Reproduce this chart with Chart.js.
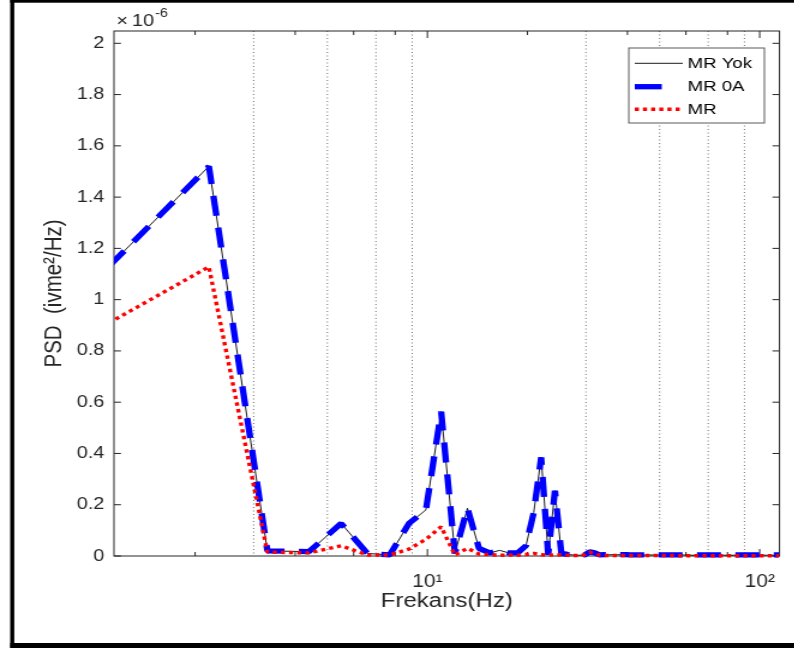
<!DOCTYPE html>
<html lang="tr">
<head>
<meta charset="UTF-8">
<title>PSD - Frekans</title>
<script src="https://cdn.jsdelivr.net/npm/chart.js@4"></script>
<style>
  html, body { margin: 0; padding: 0; background: #fff; overflow: hidden; }
  /* the figure is exported a little wider than tall, so stretch it sideways */
  #psd { display: block; transform: scaleX(1.2); transform-origin: 0 0; }
</style>
</head>
<body>
<canvas id="psd" width="662" height="650"></canvas>
<script>
// frequency bins (Hz)
const freq = [1.1, 2.2, 3.3, 4.4, 5.5, 6.6, 7.7, 8.8, 9.9, 11, 12.1, 13.2, 14.3, 15.4, 16.5, 17.6, 18.7, 19.8, 20.9, 22,
  23.1, 24.2, 25.3, 26.4, 27.5, 28.6, 29.7, 30.8, 31.9, 33, 34.1, 35.2, 36.3, 37.4, 38.5, 39.6, 40.7, 41.8, 42.9, 44,
  45.1, 46.2, 47.3, 48.4, 49.5, 50.6, 51.7, 52.8, 53.9, 55, 56.1, 57.2, 58.3, 59.4, 60.5, 61.6, 62.7, 63.8, 64.9, 66,
  67.1, 68.2, 69.3, 70.4, 71.5, 72.6, 73.7, 74.8, 75.9, 77, 78.1, 79.2, 80.3, 81.4, 82.5, 83.6, 84.7, 85.8, 86.9, 88,
  89.1, 90.2, 91.3, 92.4, 93.5, 94.6, 95.7, 96.8, 97.9, 99, 100.1, 101.2, 102.3, 103.4, 104.5, 105.6, 106.7, 107.8, 108.9, 110,
  111.1, 112.2, 113.3, 114.4];

// PSD values, x 1e-6 (ivme^2/Hz)
const psdYok = [1.13, 1.52, 0.02, 0.017, 0.127, 0.01, 0.004, 0.127, 0.18, 0.563, 0.01, 0.186, 0.03, 0.012, 0.022, 0.012, 0.012, 0.04, 0.17, 0.385,
  0.005, 0.255, 0.01, 0.006, 0.004, 0.003, 0.004, 0.016, 0.012, 0.004, 0.005, 0.005, 0.005, 0.005, 0.005, 0.005, 0.004, 0.004, 0.004, 0.004,
  0.004, 0.004, 0.004, 0.004, 0.004, 0.004, 0.004, 0.004, 0.004, 0.004, 0.004, 0.004, 0.004, 0.004, 0.004, 0.003, 0.003, 0.003, 0.003, 0.003,
  0.003, 0.003, 0.003, 0.003, 0.003, 0.003, 0.003, 0.003, 0.003, 0.003, 0.003, 0.003, 0.003, 0.003, 0.003, 0.003, 0.003, 0.003, 0.003, 0.003,
  0.003, 0.003, 0.003, 0.003, 0.003, 0.003, 0.003, 0.003, 0.003, 0.003, 0.003, 0.003, 0.003, 0.003, 0.003, 0.003, 0.003, 0.003, 0.003, 0.003,
  0.003, 0.003, 0.003, 0.003];
const psd0A = [1.13, 1.52, 0.02, 0.017, 0.127, 0.01, 0.004, 0.127, 0.18, 0.563, 0.01, 0.186, 0.03, 0.012, 0.022, 0.012, 0.012, 0.04, 0.17, 0.385,
  0.005, 0.255, 0.01, 0.006, 0.004, 0.003, 0.004, 0.016, 0.012, 0.004, 0.005, 0.005, 0.005, 0.005, 0.005, 0.005, 0.004, 0.004, 0.004, 0.004,
  0.004, 0.004, 0.004, 0.004, 0.004, 0.004, 0.004, 0.004, 0.004, 0.004, 0.004, 0.004, 0.004, 0.004, 0.004, 0.004, 0.004, 0.004, 0.004, 0.004,
  0.004, 0.004, 0.004, 0.004, 0.004, 0.004, 0.004, 0.004, 0.004, 0.004, 0.004, 0.004, 0.004, 0.004, 0.004, 0.004, 0.004, 0.004, 0.004, 0.004,
  0.004, 0.004, 0.004, 0.004, 0.004, 0.004, 0.004, 0.004, 0.004, 0.004, 0.004, 0.004, 0.004, 0.004, 0.004, 0.004, 0.004, 0.004, 0.004, 0.004,
  0.004, 0.004, 0.004, 0.004];
const psdMR = [0.909, 1.128, 0.015, 0.012, 0.04, 0.004, 0.004, 0.027, 0.065, 0.114, 0.004, 0.03, 0.008, 0.005, 0.003, 0.004, 0.003, 0.006, 0.01, 0.005,
  0.003, 0.005, 0.004, 0.003, 0.002, 0.002, 0.005, 0.015, 0.008, 0.003, 0.002, 0.002, 0.002, 0.002, 0.002, 0.002, 0.002, 0.002, 0.002, 0.002,
  0.002, 0.002, 0.002, 0.002, 0.002, 0.002, 0.002, 0.002, 0.002, 0.002, 0.001, 0.001, 0.001, 0.001, 0.001, 0.001, 0.001, 0.001, 0.001, 0.001,
  0.001, 0.001, 0.001, 0.001, 0.001, 0.001, 0.001, 0.001, 0.001, 0.001, 0.001, 0.001, 0.001, 0.001, 0.001, 0.001, 0.001, 0.001, 0.001, 0.001,
  0.001, 0.001, 0.001, 0.001, 0.001, 0.001, 0.001, 0.001, 0.001, 0.001, 0.001, 0.001, 0.001, 0.001, 0.001, 0.001, 0.001, 0.001, 0.001, 0.001,
  0.001, 0.001, 0.001, 0.001];

const yTickValues = [0, 0.2, 0.4, 0.6, 0.8, 1, 1.2, 1.4, 1.6, 1.8, 2];
const yTickLabels = ['0', '0.2', '0.4', '0.6', '0.8', '1', '1.2', '1.4', '1.6', '1.8', '2'];
const xTickValues = [10, 100];
const xTickLabels = ['10\u00B9', '10\u00B2'];
const xMinorTicks = [2, 4, 6, 8, 20, 40, 60, 80];
const xDottedGrid = [3, 5, 7, 9, 30, 50, 70, 90];

const FONT = "'Liberation Sans', Arial, sans-serif";
const INK = '#262626';

const toPoints = vals => freq.map((f, i) => ({ x: f, y: vals[i] }));

// axes box, inward ticks, dotted grid, legend and the exponent note
const matlabAxes = {
  id: 'matlabAxes',
  beforeDraw(chart) {
    const { ctx, width, height } = chart;
    ctx.save();
    ctx.fillStyle = '#fff';
    ctx.fillRect(0, 0, width, height);
    // page frame: top, left and bottom edges only
    ctx.fillStyle = '#000';
    ctx.fillRect(8.5, 0, width, 2.7);
    ctx.fillRect(8.5, 0, 3.4, 648);
    ctx.fillRect(8.5, 643, width, 5);
    ctx.restore();
  },
  beforeDatasetsDraw(chart) {
    const { ctx, chartArea: a, scales: { x, y } } = chart;
    const seg = (x1, y1, x2, y2) => { ctx.beginPath(); ctx.moveTo(x1, y1); ctx.lineTo(x2, y2); ctx.stroke(); };
    ctx.save();
    ctx.lineWidth = 1;
    ctx.strokeStyle = '#707070';
    ctx.setLineDash([1, 2.5]);
    xDottedGrid.forEach(v => {
      const px = x.getPixelForValue(v);
      seg(px, a.top, px, a.bottom);
    });
    ctx.setLineDash([]);
    ctx.strokeStyle = INK;
    xTickValues.forEach(v => {
      const px = x.getPixelForValue(v);
      seg(px, a.bottom, px, a.bottom - 7);
      seg(px, a.top, px, a.top + 7);
    });
    xMinorTicks.forEach(v => {
      const px = x.getPixelForValue(v);
      seg(px, a.bottom, px, a.bottom - 4);
      seg(px, a.top, px, a.top + 4);
    });
    yTickValues.forEach(v => {
      const py = y.getPixelForValue(v);
      seg(a.left, py, a.left + 5.8, py);
      seg(a.right, py, a.right - 5.8, py);
    });
    ctx.strokeRect(a.left, a.top, a.right - a.left, a.bottom - a.top);
    ctx.restore();
  },
  afterDatasetsDraw(chart) {
    const { ctx, chartArea: a } = chart;
    ctx.save();
    // exponent of the y axis
    ctx.fillStyle = INK;
    ctx.textBaseline = 'alphabetic';
    ctx.font = '16.5px ' + FONT;
    ctx.fillText('\u00D7', a.left + 2, 26);
    ctx.fillText('10', a.left + 15, 26);
    const w = ctx.measureText('10').width;
    ctx.font = '12px ' + FONT;
    ctx.fillText('-6', a.left + 16 + w, 16.5);

    // legend
    const box = { l: 524, t: 48, r: 637, b: 123 };
    ctx.fillStyle = '#fff';
    ctx.fillRect(box.l, box.t, box.r - box.l, box.b - box.t);
    ctx.strokeStyle = '#5a5a5a';
    ctx.lineWidth = 1;
    ctx.strokeRect(box.l, box.t, box.r - box.l, box.b - box.t);
    const rows = [63.3, 86.7, 109.3];
    chart.data.datasets.forEach((ds, i) => {
      const yy = rows[i];
      ctx.strokeStyle = ds.borderColor;
      ctx.lineWidth = ds.borderWidth;
      ctx.lineCap = 'butt';
      const dash = ds.borderDash || [];
      ctx.setLineDash(dash.length && dash[0] > 10 ? [22.5, 40] : dash);
      ctx.beginPath();
      ctx.moveTo(529, yy);
      ctx.lineTo(569, yy);
      ctx.stroke();
      ctx.setLineDash([]);
      ctx.fillStyle = '#000';
      ctx.font = '15.5px ' + FONT;
      ctx.textBaseline = 'middle';
      ctx.fillText(ds.label, 573, yy + 0.5);
    });
    ctx.restore();
  }
};

new Chart(document.getElementById('psd'), {
  type: 'line',
  data: {
    datasets: [
      { label: 'MR Yok', data: toPoints(psdYok), borderColor: '#000000', borderWidth: 0.9, order: 2 },
      { label: 'MR 0A', data: toPoints(psd0A), borderColor: '#0000ff', borderWidth: 5.3, borderDash: [20, 12], borderJoinStyle: 'bevel', order: 1 },
      { label: 'MR', data: toPoints(psdMR), borderColor: '#ff0000', borderWidth: 3.4, borderDash: [3.4, 3.4], borderJoinStyle: 'bevel', order: 0 }
    ]
  },
  options: {
    responsive: false,
    animation: false,
    devicePixelRatio: 1,
    events: [],
    parsing: false,
    elements: { point: { radius: 0 }, line: { tension: 0, fill: false, borderCapStyle: 'butt' } },
    datasets: { line: { clip: { left: 0, right: 0, top: 4, bottom: 4 } } },
    layout: { padding: { left: 0, right: 9.5, top: 31, bottom: 34 } },
    plugins: { legend: { display: false }, tooltip: { enabled: false } },
    scales: {
      x: {
        type: 'logarithmic',
        min: 1.14,
        max: 114.7,
        grid: { display: false, drawTicks: false },
        border: { display: false },
        afterBuildTicks: s => { s.ticks = xTickValues.map(v => ({ value: v, major: true })); },
        afterFit: s => { s.height = 60; },
        ticks: {
          autoSkip: false, maxRotation: 0, padding: 16, color: INK,
          font: { family: FONT, size: 17.5 },
          callback: (v, i) => xTickLabels[i]
        },
        title: { display: true, text: 'Frekans(Hz)', color: INK, font: { family: FONT, size: 20 }, padding: { top: 0, bottom: 3 } }
      },
      y: {
        min: 0,
        max: 2.048,
        grid: { display: false, drawTicks: false },
        border: { display: false },
        afterBuildTicks: s => { s.ticks = yTickValues.map(v => ({ value: v })); },
        afterFit: s => { s.width = 95; },
        ticks: {
          padding: 8, color: INK,
          font: { family: FONT, size: 16.5 },
          callback: (v, i) => yTickLabels[i]
        },
        title: { display: true, text: 'PSD  (ivme\u00B2/Hz)', color: INK, font: { family: FONT, size: 20.5 }, padding: { top: 33, bottom: 0 } }
      }
    }
  },
  plugins: [matlabAxes]
});
</script>
</body>
</html>
